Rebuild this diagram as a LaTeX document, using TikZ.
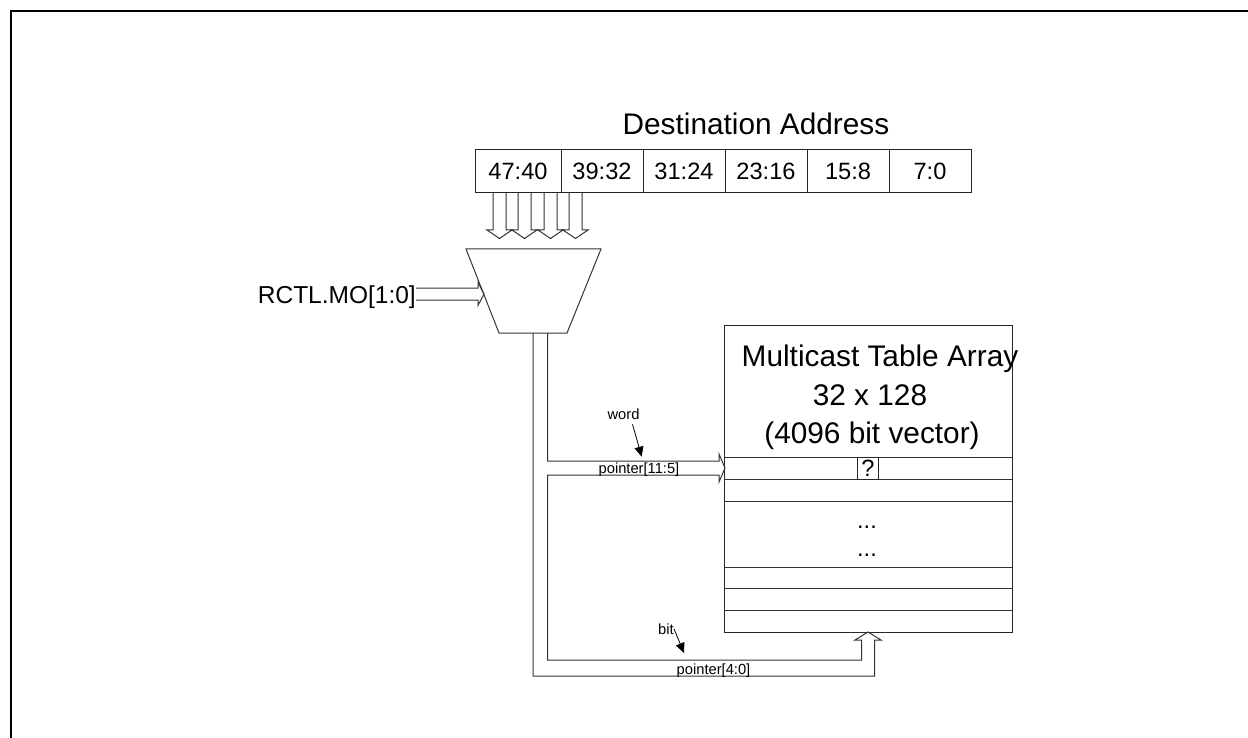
\documentclass[tikz,border=0pt]{standalone}
\usepackage{fontspec}
\setmainfont{Liberation Sans}
\usetikzlibrary{arrows.meta,positioning}

\begin{document}
\begin{tikzpicture}[x=1pt,y=-1pt,
    wire/.style={draw=black!80, line width=1pt},
    cell/.style={rectangle, draw=black!85, line width=1pt, minimum width=82pt, minimum height=43pt, inner sep=0pt, outer sep=0pt, font=\fontsize{23.6}{26}\selectfont},
    title/.style={inner sep=0pt, anchor=base, font=\fontsize{29.8}{34}\selectfont},
    tag/.style={inner sep=0pt, anchor=base, font=\fontsize{14.7}{16}\selectfont},
    pointarrow/.style={-{Triangle[length=10pt,width=9pt]}, line width=0.8pt}
]
\useasboundingbox (0,0) rectangle (1248,738);
% page frame
\draw[line width=2pt] (11,738) -- (11,11) -- (1248,11);

% destination address
\node[title] (dest) at (756,135) {Destination Address};
\node[cell, minimum width=86pt, anchor=north west] (c1) at (475,150) {47:40};
\node[cell, right=0pt of c1] (c2) {39:32};
\node[cell, right=0pt of c2] (c3) {31:24};
\node[cell, right=0pt of c3] (c4) {23:16};
\node[cell, right=0pt of c4] (c5) {15:8};
\node[cell, right=0pt of c5] (c6) {7:0};

% hollow bus arrows into the mux
\foreach \x in {499.5,524.5,550.5,575.5}
  \draw[wire] (\x-6.5,193) -- (\x-6.5,230) -- (\x-12.5,230) -- (\x,238.5)
    -- (\x+12.5,230) -- (\x+6.5,230) -- (\x+6.5,193);

% mux
\draw[wire] (466,249) coordinate (mtl) -- (601,249) coordinate (mtr)
  -- (567,333) coordinate (mbr) -- (499,333) coordinate (mbl) -- cycle;

% select input
\node[inner sep=0pt, anchor=base east, font=\fontsize{24.5}{28}\selectfont] (rctl) at (416,303) {RCTL.MO[1:0]};
\draw[wire] (rctl.east |- 0,288) -- (478,288) -- (478,282.5) -- (484,294)
  -- (478,305.5) -- (478,300) -- (rctl.east |- 0,300);

% table
\node[draw=black!85, line width=1pt, minimum width=287.5pt, minimum height=307pt, anchor=north west, inner sep=0pt, outer sep=0pt] (tbl) at (724.5,325.5) {};
\foreach \y in {457,479,501,567,588,610}
  \draw[wire] (tbl.west |- 0,\y) -- (tbl.east |- 0,\y);
\node[title] (t1) at (880,366) {Multicast Table Array};
\node[title] (t2) at (870,405) {32 x 128};
\node[title] (t3) at (872,443) {(4096 bit vector)};
\node[draw=black!85, line width=1pt, minimum width=20.5pt, minimum height=22pt, inner sep=0pt, font=\fontsize{23.6}{26}\selectfont] (q) at (868,468) {?};
\node[inner sep=0pt, anchor=base, font=\fontsize{23.6}{26}\selectfont] (d1) at (867,528) {...};
\node[inner sep=0pt, anchor=base, font=\fontsize{23.6}{26}\selectfont] (d2) at (867,556) {...};

% pointer buses out of the mux
\draw[wire] (547.5,333) -- (547.5,461) -- (719,461) -- (719,454) -- (725,468)
  -- (719,482) -- (719,475) -- (547.5,475) -- (547.5,660) -- (861.5,660)
  -- (861.5,640) -- (855,640) -- (868,632) -- (881,640) -- (874.5,640)
  -- (874.5,676) -- (533,676) -- (533,333);

% labels
\node[tag] (word) at (623.5,419) {word};
\node[tag] (wptr) at (639,473) {pointer[11:5]};
\node[tag] (bit) at (666,634) {bit};
\node[tag] (bptr) at (713.5,674) {pointer[4:0]};
\coordinate (wtip) at (641.7,456.7);
\coordinate (btip) at (684,653);
\draw[pointarrow] ([xshift=9pt,yshift=-5pt]word.south) -- (wtip);
\draw[pointarrow] (bit.east) -- (btip);
\end{tikzpicture}
\end{document}
